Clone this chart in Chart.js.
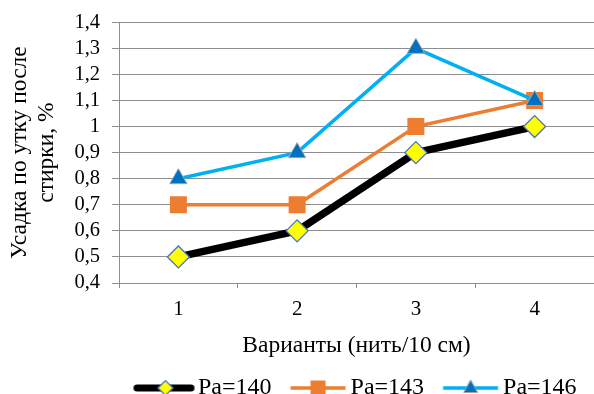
<!DOCTYPE html>
<html><head><meta charset="utf-8">
<script src="https://cdn.jsdelivr.net/npm/chart.js@4/dist/chart.umd.min.js"></script>
<style>html,body{margin:0;padding:0;background:#fff}</style>
</head><body>
<canvas id="c" width="594" height="394" style="display:block;width:594px;height:394px"></canvas>
<script>
const categories = ['1', '2', '3', '4'];
const seriesNames = ['Ра=140', 'Ра=143', 'Ра=146'];
const pa140 = [0.5, 0.6, 0.9, 1.0];
const pa143 = [0.7, 0.7, 1.0, 1.1];
const pa146 = [0.8, 0.9, 1.3, 1.1];
const yTickLabels = ['0,4', '0,5', '0,6', '0,7', '0,8', '0,9', '1', '1,1', '1,2', '1,3', '1,4'];
const xTitle = 'Варианты (нить/10 см)';
const yTitle = ['Усадка по утку после', 'стирки, %'];

const FONT = "'Liberation Serif', 'Times New Roman', serif";
const GRID = '#8e8e8e';
Chart.defaults.font.family = FONT;
Chart.defaults.color = '#000';

// legend sample geometry (box-relative)
const LBOX = 63, LPAD = 4, LINE0 = 15, LINE1 = 70, IMGW = 96, IMGH = 26;
function legendImage(kind) {
  const c = document.createElement('canvas');
  c.width = IMGW; c.height = IMGH;
  const g = c.getContext('2d');
  const off = IMGW / 2 - LBOX / 2;
  const x0 = LINE0 + off, x1 = LINE1 + off, cx = (x0 + x1) / 2, y = IMGH / 2;
  g.beginPath();
  if (kind === 'diamond') { g.lineCap = 'round'; g.moveTo(x0 - 1, y); g.lineTo(x1 - 2, y); g.lineWidth = 7; g.strokeStyle = '#000'; }
  else if (kind === 'square') { g.moveTo(x0, y); g.lineTo(x1, y); g.lineWidth = 3.5; g.strokeStyle = '#ED7D31'; }
  else { g.moveTo(x0, y); g.lineTo(x1, y); g.lineWidth = 3.5; g.strokeStyle = '#00B0F0'; }
  g.stroke();
  g.beginPath();
  if (kind === 'diamond') {
    g.moveTo(cx - 7.5, y); g.lineTo(cx, y - 7.5); g.lineTo(cx + 7.5, y); g.lineTo(cx, y + 7.5); g.closePath();
    g.fillStyle = '#FFFF00'; g.fill(); g.lineWidth = 1.2; g.strokeStyle = '#4472C4'; g.stroke();
  } else if (kind === 'square') {
    g.fillStyle = '#ED7D31'; g.fillRect(cx - 7.5, y - 7.5, 15, 15);
  } else {
    g.moveTo(cx, y - 8); g.lineTo(cx + 7, y + 4.5); g.lineTo(cx - 7, y + 4.5); g.closePath();
    g.fillStyle = '#0070C0'; g.fill(); g.lineWidth = 1; g.strokeStyle = '#A5A5A5'; g.stroke();
  }
  return c;
}
const legendImgs = [legendImage('diamond'), legendImage('square'), legendImage('triangle')];

new Chart(document.getElementById('c'), {
  type: 'line',
  data: {
    labels: categories,
    datasets: [
      { label: seriesNames[0], data: pa140, order: 2, borderColor: '#000000', borderWidth: 7.5,
        borderCapStyle: 'round', borderJoinStyle: 'round',
        pointStyle: 'rectRot', pointRadius: 11, pointHoverRadius: 11,
        pointBackgroundColor: '#FFFF00', pointBorderColor: '#4472C4', pointBorderWidth: 1.3, tension: 0 },
      { label: seriesNames[1], data: pa143, order: 1, borderColor: '#ED7D31', borderWidth: 3.5,
        pointStyle: 'rect', pointRadius: 12, pointHoverRadius: 12,
        pointBackgroundColor: '#ED7D31', pointBorderColor: '#ED7D31', pointBorderWidth: 0, tension: 0 },
      { label: seriesNames[2], data: pa146, order: 0, borderColor: '#00B0F0', borderWidth: 3.5,
        pointStyle: 'triangle', pointRadius: 10, pointHoverRadius: 10,
        pointBackgroundColor: '#0070C0', pointBorderColor: '#A5A5A5', pointBorderWidth: 1, tension: 0 }
    ]
  },
  options: {
    responsive: false,
    animation: false,
    devicePixelRatio: 1,
    layout: { autoPadding: false, padding: { left: 0, right: 0, top: 21, bottom: -16 } },
    plugins: {
      tooltip: { enabled: false },
      legend: {
        position: 'bottom',
        align: 'start',
        fullSize: false,
        labels: {
          usePointStyle: true,
          pointStyleWidth: LBOX,
          padding: LPAD,
          color: '#000',
          font: { family: FONT, size: 24 },
          generateLabels: (chart) => seriesNames.map((n, i) => ({
            text: n, pointStyle: legendImgs[i], datasetIndex: i, hidden: false,
            fillStyle: 'transparent', strokeStyle: 'transparent', lineWidth: 0, fontColor: '#000'
          }))
        }
      }
    },
    scales: {
      x: {
        type: 'category',
        offset: true,
        afterFit: (s) => { s.height = 89; s.paddingLeft = 0; s.paddingRight = 0; },
        grid: { display: true, drawOnChartArea: false, drawTicks: true, tickLength: 5, color: GRID, offset: true },
        border: { display: true, color: GRID, width: 1 },
        ticks: { color: '#000', padding: 9, font: { family: FONT, size: 21 } },
        title: { display: true, text: xTitle, color: '#000', font: { family: FONT, size: 23.5, lineHeight: 1.1 }, padding: { top: 0, bottom: 13 } }
      },
      y: {
        min: 0.4, max: 1.4,
        afterFit: (s) => { s.width = 119; },
        grid: { color: GRID, drawTicks: true, tickLength: 7 },
        border: { display: true, color: GRID, width: 1 },
        ticks: { stepSize: 0.1, maxTicksLimit: 20, autoSkip: false, color: '#000', padding: 12, font: { family: FONT, size: 20.5, lineHeight: 1 },
          callback: (v, i) => yTickLabels[i] },
        title: { display: true, text: yTitle, color: '#000', font: { family: FONT, size: 23.5, lineHeight: 1.12 }, padding: { top: 7, bottom: 0 } }
      }
    }
  }
});
</script>
</body></html>
